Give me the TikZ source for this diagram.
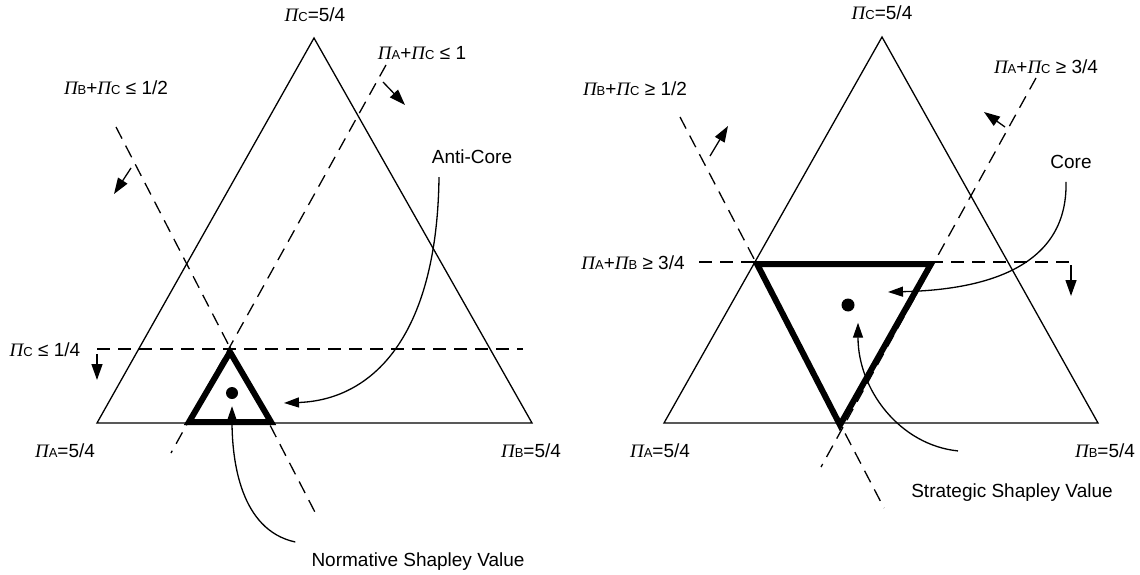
\documentclass[tikz,border=0pt]{standalone}
\usepackage{fontspec}
\setmainfont{Liberation Sans}
\newfontfamily\pifont{Liberation Serif}
\usetikzlibrary{arrows.meta}
\newcommand{\pv}[1]{{\pifont\itshape Π}{\fontsize{13}{13}\selectfont #1}}

\begin{document}
\begin{tikzpicture}[
  x=1pt,y=-1pt,
  every node/.style={font=\fontsize{19}{21}\selectfont,inner sep=0pt},
  simplex/.style={line width=1.3pt,line join=miter},
  bound/.style={line width=1.3pt,dash pattern=on 13pt off 8pt},
  region/.style={line width=6pt,line join=miter},
  side/.style={-{Triangle[length=16pt,width=11pt]},line width=1.3pt},
  callout/.style={-{Triangle[length=15pt,width=10pt]},line width=1.3pt},
  value/.style={circle,fill,minimum size=12pt,inner sep=0pt}
]
\useasboundingbox (0,0) rectangle (1140,575);

% normative game: anti-core
\coordinate (lA) at (97,423);
\coordinate (lB) at (532,423);
\coordinate (lC) at (314,38);
\draw[simplex] (lA) -- (lB) -- (lC) -- cycle;
\node (lCtop) at (315,15) {\pv{C}=5/4};
\node (lAlab) at (65,451) {\pv{A}=5/4};
\node (lBlab) at (531,451) {\pv{B}=5/4};
\node (lBCrule) at (116,88) {\pv{B}+\pv{C} ≤ 1/2};
\node (lACrule) at (422,53) {\pv{A}+\pv{C} ≤ 1};
\node (lCrule) at (45,350) {\pv{C} ≤ 1/4};
\coordinate (lBC1) at (116,127);
\coordinate (lBC2) at (318,518);
\coordinate (lAC1) at (386,65);
\coordinate (lAC2) at (171,453);
\coordinate (lC1) at (97,349);
\coordinate (lC2) at (523,349);
\draw[bound] (lBC1) -- (lBC2);
\draw[bound] (lAC1) -- (lAC2);
\draw[bound] (lC1) -- (lC2);
\draw[side] (131,168) -- (114,194);
\draw[side] (383,82) -- (405,105);
\draw[side] (97,354) -- (97,380);
\coordinate (acTop) at (230,352);
\coordinate (acLeft) at (189,422);
\coordinate (acRight) at (271,422);
\draw[region] (acLeft) -- (acRight) -- (acTop) -- cycle;
\node[value] (nsv) at (232,393) {};
\node (anticore) at (472,157) {Anti-Core};
\node (normative) at (418,562) {Normative Shapley Value};
\draw[callout] ([xshift=-33pt,yshift=-13pt]anticore.south) .. controls (437,340) and (370,400) .. (284,403);
\draw[callout] ([xshift=-16pt,yshift=20pt]normative.west) .. controls (240,530) and (232,460) .. ([yshift=-7pt]nsv.south);

% strategic game: core
\coordinate (rA) at (664,423);
\coordinate (rB) at (1098,423);
\coordinate (rC) at (882,37);
\draw[simplex] (rA) -- (rB) -- (rC) -- cycle;
\node (rCtop) at (882,13) {\pv{C}=5/4};
\node (rAlab) at (660,451) {\pv{A}=5/4};
\node (rBlab) at (1105,451) {\pv{B}=5/4};
\node (rBCrule) at (635,89) {\pv{B}+\pv{C} ≥ 1/2};
\node (rACrule) at (1046,67) {\pv{A}+\pv{C} ≥ 3/4};
\node (rABrule) at (633,263) {\pv{A}+\pv{B} ≥ 3/4};
\coordinate (rBC1) at (680,117);
\coordinate (rBC2) at (884,508);
\coordinate (rAC1) at (1036,78);
\coordinate (rAC2) at (821,467);
\coordinate (rAB1) at (699,262);
\coordinate (rAB2) at (1071,262);
\draw[bound] (rBC1) -- (rBC2);
\draw[bound] (rAC1) -- (rAC2);
\draw[bound] (rAB1) -- (rAB2);
\draw[side] (710,156) -- (728,126);
\draw[side] (1005,127) -- (984,112);
\draw[side] (1071,265) -- (1071,296);
\coordinate (coLeft) at (757,264);
\coordinate (coRight) at (931,264);
\coordinate (coBottom) at (840,425);
\draw[region] (coLeft) -- (coRight) -- (coBottom) -- cycle;
\node[value,minimum size=13pt] (ssv) at (848,305) {};
\node (core) at (1071,162) {Core};
\node (strategic) at (1012,493) {Strategic Shapley Value};
\draw[callout] ([xshift=-5pt,yshift=-13pt]core.south) .. controls (1068,270) and (980,290) .. (888,292);
\draw[callout] ([xshift=-54pt,yshift=33pt]strategic.north) .. controls (900,445) and (858,390) .. ([xshift=10pt,yshift=-11pt]ssv.south);
\end{tikzpicture}
\end{document}
